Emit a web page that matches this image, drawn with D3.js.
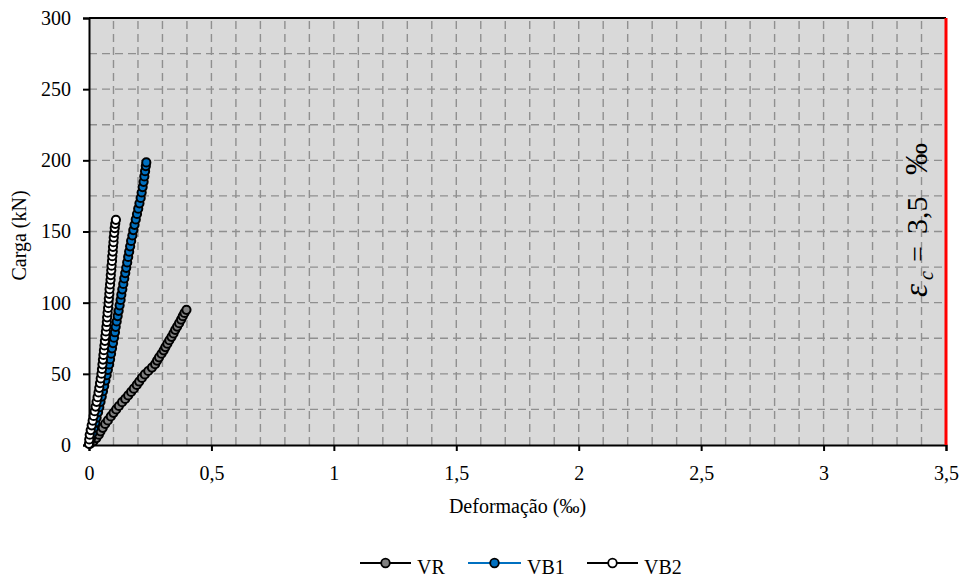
<!DOCTYPE html>
<html>
<head>
<meta charset="utf-8">
<script src="https://cdn.jsdelivr.net/npm/d3@7"></script>
<style>
  html, body { margin: 0; padding: 0; background: #ffffff; }
  svg { display: block; }
  text { font-family: "Liberation Serif", "Times New Roman", serif; fill: #000; }
</style>
</head>
<body>
<svg id="chart" width="967" height="581"></svg>
<script>
// ---- Data (strain in ‰, load in kN) ----
const vrStrain = [0.004,0.018,0.030,0.040,0.047,0.056,0.066,0.077,0.089,0.100,0.111,0.122,0.135,0.148,0.160,0.172,0.183,0.195,0.205,0.216,0.228,0.242,0.257,0.270,0.278,0.286,0.296,0.305,0.312,0.320,0.328,0.337,0.345,0.352,0.360,0.368,0.376,0.383,0.390,0.398];
const vrLoad   = [0.8,2.6,4.9,7.2,9.6,12.1,14.8,17.3,20.1,22.6,25.0,27.4,30.1,32.4,34.8,37.3,39.6,42.2,44.6,47.1,49.6,52.0,54.4,56.8,59.3,61.6,64.1,66.5,68.8,71.2,73.6,76.0,78.4,80.9,83.2,85.6,88.1,90.5,92.8,95.0];

const vb1Strain = [0.002,0.008,0.014,0.020,0.026,0.031,0.037,0.042,0.047,0.052,0.057,0.062,0.067,0.072,0.077,0.082,0.086,0.090,0.094,0.098,0.102,0.106,0.109,0.113,0.117,0.121,0.125,0.129,0.132,0.136,0.140,0.144,0.148,0.152,0.156,0.160,0.164,0.168,0.172,0.177,0.181,0.186,0.191,0.196,0.201,0.206,0.211,0.215,0.219,0.223,0.226,0.229,0.232,0.234];
const vb1Load   = [1.0,4.5,8.3,12.0,15.6,19.2,23.0,26.6,30.3,34.0,37.8,41.5,45.3,49.0,52.8,56.6,60.3,64.1,67.9,71.6,75.4,79.2,83.0,86.8,90.6,94.3,98.1,101.9,105.6,109.4,113.2,117.0,120.8,124.5,128.3,132.1,135.8,139.6,143.4,147.2,151.0,154.7,158.5,162.3,166.0,169.8,173.6,177.4,181.2,184.9,188.7,192.4,196.0,198.5];

const vb2Strain = [0.000,0.001,0.003,0.007,0.011,0.015,0.019,0.023,0.027,0.031,0.035,0.039,0.042,0.045,0.048,0.051,0.053,0.055,0.057,0.059,0.061,0.063,0.065,0.067,0.069,0.071,0.073,0.074,0.076,0.078,0.080,0.081,0.083,0.084,0.086,0.088,0.089,0.091,0.092,0.094,0.095,0.097,0.098,0.100,0.101,0.103,0.105,0.107,0.110];
const vb2Load   = [0.8,3.9,7.2,10.5,13.8,17.1,20.4,23.7,27.0,30.3,33.6,36.9,40.2,43.5,46.8,50.1,53.4,56.7,60.0,63.3,66.6,69.9,73.2,76.5,79.8,83.1,86.4,89.7,93.0,96.3,99.6,102.9,106.2,109.5,112.8,116.1,119.4,122.7,126.0,129.3,132.6,135.9,139.2,142.5,145.8,149.1,152.4,155.4,158.2];

const seriesNames = ["VR", "VB1", "VB2"];
const xTickValues = [0, 0.5, 1, 1.5, 2, 2.5, 3, 3.5];
const xTickLabels = ["0", "0,5", "1", "1,5", "2", "2,5", "3", "3,5"];
const yTickValues = [0, 50, 100, 150, 200, 250, 300];
const limitStrain = [3.5];

// ---- Styles ----
const styles = {
  VR:  { fill: "#808080", line: "#000000" },
  VB1: { fill: "#0070C0", line: "#0070C0" },
  VB2: { fill: "#ffffff", line: "#000000" }
};

const series = [
  { name: "VR",  x: vrStrain,  y: vrLoad },
  { name: "VB1", x: vb1Strain, y: vb1Load },
  { name: "VB2", x: vb2Strain, y: vb2Load }
].map(s => ({ name: s.name, pts: s.x.map((v, i) => [v, s.y[i]]) }));

const svg = d3.select("#chart");
const W = 967, H = 581;
const m = { left: 89, right: 21, top: 18, bottom: 136 };

const x = d3.scaleLinear().domain([0, 3.5]).range([m.left, W - m.right]);
const y = d3.scaleLinear().domain([0, 300]).range([H - m.bottom, m.top]);

// Plot background
svg.append("rect")
  .attr("x", x(0)).attr("y", y(300))
  .attr("width", x(3.5) - x(0)).attr("height", y(0) - y(300))
  .attr("fill", "#d9d9d9");

// Grid lines
const gridX = d3.range(1, 35).map(i => i / 10);
const gridY = d3.range(1, 12).map(i => i * 25);
const grid = svg.append("g").attr("stroke", "#8f8f8f").attr("stroke-width", 1.4).attr("stroke-dasharray", "8,5");
grid.selectAll("line.gx").data(gridX).join("line")
  .attr("x1", d => x(d)).attr("x2", d => x(d))
  .attr("y1", y(0)).attr("y2", y(300));
grid.selectAll("line.gy").data(gridY).join("line")
  .attr("x1", x(0)).attr("x2", x(3.5))
  .attr("y1", d => y(d)).attr("y2", d => y(d));

// Top border
svg.append("line")
  .attr("x1", x(0)).attr("x2", x(3.5))
  .attr("y1", y(300)).attr("y2", y(300))
  .attr("stroke", "#000").attr("stroke-width", 2);

// Axes
const xAxis = d3.axisBottom(x).tickValues(xTickValues)
  .tickFormat((d, i) => xTickLabels[i]).tickSize(6).tickPadding(15);
const yAxis = d3.axisLeft(y).tickValues(yTickValues).tickSize(6).tickPadding(12);

const gx = svg.append("g").attr("transform", `translate(0,${y(0)})`).call(xAxis);
const gy = svg.append("g").attr("transform", `translate(${x(0)},0)`).call(yAxis);
[gx, gy].forEach(g => {
  g.select(".domain").attr("stroke", "#000").attr("stroke-width", 2);
  g.selectAll(".tick line").attr("stroke", "#000").attr("stroke-width", 2);
  g.selectAll(".tick text").attr("font-family", "Liberation Serif, Times New Roman, serif")
    .attr("font-size", 20).attr("fill", "#000");
});

// Limit line (εc = 3.5 ‰)
svg.selectAll("line.limit").data(limitStrain).join("line")
  .attr("x1", d => x(d)).attr("x2", d => x(d))
  .attr("y1", y(0)).attr("y2", y(300))
  .attr("stroke", "#ff0000").attr("stroke-width", 3);

// Series
const lineGen = d3.line().x(d => x(d[0])).y(d => y(d[1]));
series.forEach(s => {
  const st = styles[s.name];
  svg.append("path").datum(s.pts)
    .attr("d", lineGen).attr("fill", "none")
    .attr("stroke", st.line).attr("stroke-width", 1.5);
  svg.append("g").selectAll("circle").data(s.pts).join("circle")
    .attr("cx", d => x(d[0])).attr("cy", d => y(d[1]))
    .attr("r", 4.1)
    .attr("fill", st.fill).attr("stroke", "#000").attr("stroke-width", 2);
});

// Axis titles
svg.append("text")
  .attr("x", (x(0) + x(3.5)) / 2).attr("y", 513)
  .attr("text-anchor", "middle").attr("font-size", 20)
  .text("Deformação (‰)");
svg.append("text")
  .attr("transform", `translate(26,${(y(0) + y(300)) / 2 + 4}) rotate(-90)`)
  .attr("text-anchor", "middle").attr("font-size", 20)
  .text("Carga (kN)");

// Annotation (rotated; positions along text direction)
const ann = svg.append("g").attr("transform", `translate(927,297) rotate(-90)`);
const annParts = [
  { t: "ε",   x: 0,   dy: 0, size: 33, italic: true },
  { t: "c",   x: 17,  dy: 6, size: 20, italic: true },
  { t: "=",   x: 35,  dy: 0, size: 28, italic: false },
  { t: "3,5", x: 63,  dy: 0, size: 30, italic: false },
  { t: "‰",   x: 122, dy: 0, size: 32, italic: false }
];
ann.selectAll("text").data(annParts).join("text")
  .attr("x", d => d.x).attr("y", d => d.dy)
  .attr("font-size", d => d.size)
  .attr("font-style", d => d.italic ? "italic" : "normal")
  .text(d => d.t);

// Legend
const legendX = [360, 468, 587];
const legendLineW = [51, 53, 51];
const legend = svg.append("g");
seriesNames.forEach((name, i) => {
  const st = styles[name];
  const g = legend.append("g").attr("transform", `translate(${legendX[i]},563)`);
  g.append("line").attr("x1", 0).attr("x2", legendLineW[i]).attr("y1", 0).attr("y2", 0)
    .attr("stroke", st.line).attr("stroke-width", 2);
  g.append("circle").attr("cx", legendLineW[i] / 2).attr("cy", 0).attr("r", 4.3)
    .attr("fill", st.fill).attr("stroke", "#000").attr("stroke-width", 1.8);
  g.append("text").attr("x", legendLineW[i] + 6).attr("y", 10.5)
    .attr("font-size", 20).text(name);
});
</script>
</body>
</html>
